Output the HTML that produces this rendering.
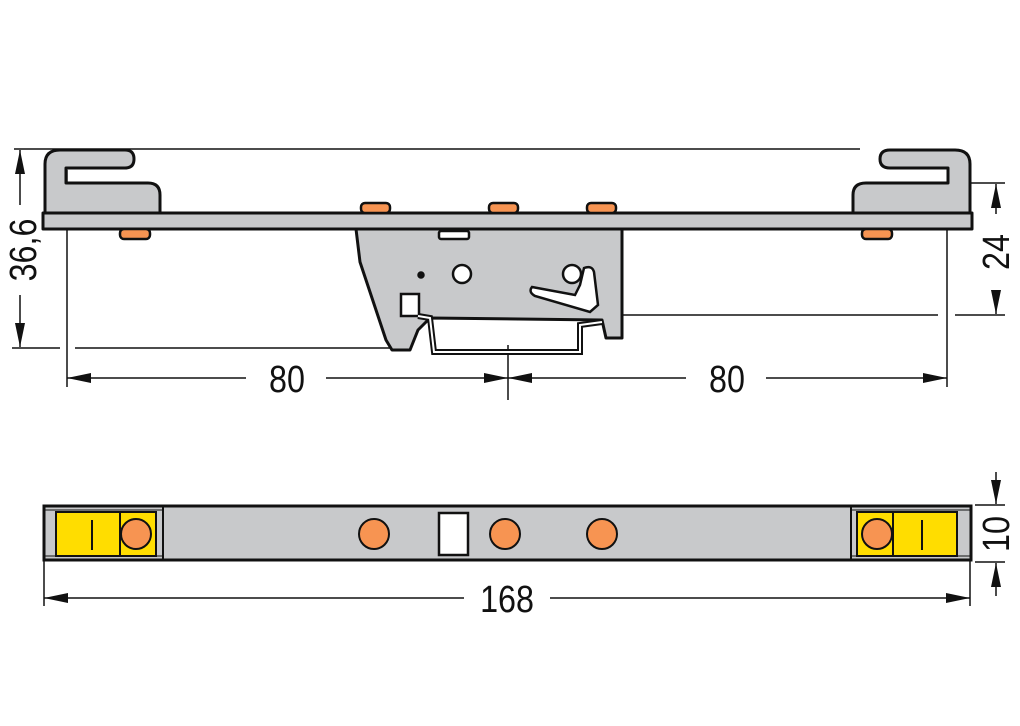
<!DOCTYPE html>
<html><head><style>body{margin:0;background:#fff}svg{display:block}</style></head><body>
<svg width="1020" height="726" viewBox="0 0 1020 726" xmlns="http://www.w3.org/2000/svg" font-family="Liberation Sans, sans-serif">
<defs>
<marker id="a" viewBox="0 0 10 10" refX="10" refY="5" markerWidth="24" markerHeight="10" markerUnits="userSpaceOnUse" orient="auto-start-reverse" preserveAspectRatio="none"><path d="M0,0L10,5L0,10z" fill="#111"/></marker>
</defs>
<g stroke="#111" stroke-width="1.5" fill="none">
<line x1="14" y1="149" x2="860" y2="149"/>
<line x1="12" y1="348" x2="60" y2="348"/><line x1="75" y1="348" x2="392" y2="348"/>
<line x1="67" y1="170" x2="67" y2="387"/>
<line x1="947" y1="183" x2="947" y2="387"/>
<line x1="508" y1="345" x2="508" y2="400"/>
<line x1="955" y1="183" x2="1005" y2="183"/>
<line x1="955" y1="315" x2="1005" y2="315"/><line x1="600" y1="315" x2="938" y2="315"/>
</g>
<g stroke="#111" stroke-width="3" fill="#c8c9cb" stroke-linejoin="round">
<path d="M356,229 L622,229 L622,338 L606,338 L602,320 L430,318 L418,330 L410,350 L392,350 L386,340 L360,262 Z"/>
<path d="M43,213 L972,213 L972,229 L43,229 Z"/>
<path d="M45,213 L45,164 Q45,150 60,150 L125,150 Q134,150 134,159 Q134,168 125,168 L66,168 L66,183 L148,183 Q160,183 160,195 L160,213 Z"/>
<path d="M970,213 L970,164 Q970,150 955,150 L890,150 Q880,150 880,159 Q880,168 890,168 L948,168 L948,183 L866,183 Q853,183 853,195 L853,213 Z"/>
</g>
<g stroke="#111" stroke-width="2.5" fill="#f79452">
<rect x="361" y="203" width="29" height="10" rx="4"/><rect x="489" y="203" width="29" height="10" rx="4"/><rect x="587" y="203" width="29" height="10" rx="4"/>
<rect x="120" y="229" width="30" height="10" rx="4"/><rect x="862" y="229" width="30" height="10" rx="4"/>
</g>
<g stroke="#111" stroke-width="2.5" fill="#fff">
<rect x="439" y="231" width="30" height="8" rx="2"/>
<circle cx="462" cy="274" r="9"/><circle cx="572" cy="274" r="9"/>
<circle cx="421" cy="275" r="2.5" fill="#111"/>
<rect x="401" y="294" width="18" height="22"/>
<path d="M532,287 L575,295 L580,285 L584,268 Q592,265 594,272 L598,305 L590,312 L535,296 Q528,292 532,287Z"/>
<path d="M418,316 L430,318 L434,352 L580,352 L580,325 L602,322" fill="none" stroke-width="6"/>
<path d="M418,316 L430,318 L434,352 L580,352 L580,325 L602,322" fill="none" stroke="#fff" stroke-width="2"/>
</g>
<g stroke="#111" stroke-width="1.5" marker-start="url(#a)" marker-end="url(#a)">
<line x1="20" y1="150" x2="20" y2="347"/>
</g>
<rect x="4" y="205" width="34" height="90" fill="#fff"/>
<text transform="translate(36,250) rotate(-90) scale(0.85,1)" font-size="38" text-anchor="middle" fill="#111">36,6</text>
<g stroke="#111" stroke-width="1.5" fill="none">
<line x1="67" y1="378" x2="508" y2="378" marker-start="url(#a)" marker-end="url(#a)"/>
<line x1="508" y1="378" x2="947" y2="378" marker-start="url(#a)" marker-end="url(#a)"/>
<line x1="996" y1="184" x2="996" y2="314" marker-start="url(#a)" marker-end="url(#a)"/>
</g>
<rect x="246" y="358" width="80" height="40" fill="#fff"/><rect x="686" y="358" width="80" height="40" fill="#fff"/>
<rect x="978" y="214" width="34" height="76" fill="#fff"/>
<text transform="translate(287,392) scale(0.85,1)" font-size="38" text-anchor="middle" fill="#111">80</text>
<text transform="translate(727,392) scale(0.85,1)" font-size="38" text-anchor="middle" fill="#111">80</text>
<text transform="translate(1009,252) rotate(-90) scale(0.85,1)" font-size="38" text-anchor="middle" fill="#111">24</text>
<rect x="44" y="506" width="927" height="54" fill="#c8c9cb" stroke="#111" stroke-width="3"/>
<g stroke="#111" stroke-width="2">
<rect x="56" y="512" width="100" height="44" fill="#ffdd00"/><line x1="120" y1="512" x2="120" y2="556"/><line x1="92" y1="520" x2="92" y2="550"/>
<rect x="857" y="512" width="100" height="44" fill="#ffdd00"/><line x1="893" y1="512" x2="893" y2="556"/><line x1="922" y1="520" x2="922" y2="550"/>
<line x1="163" y1="506" x2="163" y2="560"/><line x1="851" y1="506" x2="851" y2="560"/>
<line x1="44" y1="510" x2="163" y2="510" stroke-width="1"/><line x1="44" y1="556" x2="163" y2="556" stroke-width="1"/>
<line x1="851" y1="510" x2="971" y2="510" stroke-width="1"/><line x1="851" y1="556" x2="971" y2="556" stroke-width="1"/>
<rect x="439" y="513" width="29" height="42" fill="#fff" stroke-width="2.5"/>
</g>
<g stroke="#111" stroke-width="2" fill="#f79452">
<circle cx="136" cy="534" r="15"/><circle cx="374" cy="534" r="15"/><circle cx="505" cy="534" r="15"/><circle cx="602" cy="534" r="15"/><circle cx="877" cy="534" r="15"/>
</g>
<g stroke="#111" stroke-width="1.5" fill="none">
<line x1="44" y1="560" x2="44" y2="606"/><line x1="970" y1="560" x2="970" y2="606"/>
<line x1="975" y1="505" x2="1005" y2="505"/><line x1="975" y1="562" x2="1005" y2="562"/>
<line x1="44" y1="598" x2="970" y2="598" marker-start="url(#a)" marker-end="url(#a)"/>
<line x1="996" y1="472" x2="996" y2="504" marker-end="url(#a)"/>
<line x1="996" y1="596" x2="996" y2="563" marker-end="url(#a)"/>
</g>
<rect x="464" y="578" width="86" height="40" fill="#fff"/>
<text transform="translate(507,612) scale(0.85,1)" font-size="38" text-anchor="middle" fill="#111">168</text>
<rect x="980" y="508" width="30" height="52" fill="#fff"/>
<text transform="translate(1009,534) rotate(-90) scale(0.85,1)" font-size="38" text-anchor="middle" fill="#111">10</text>
</svg>
</body></html>
